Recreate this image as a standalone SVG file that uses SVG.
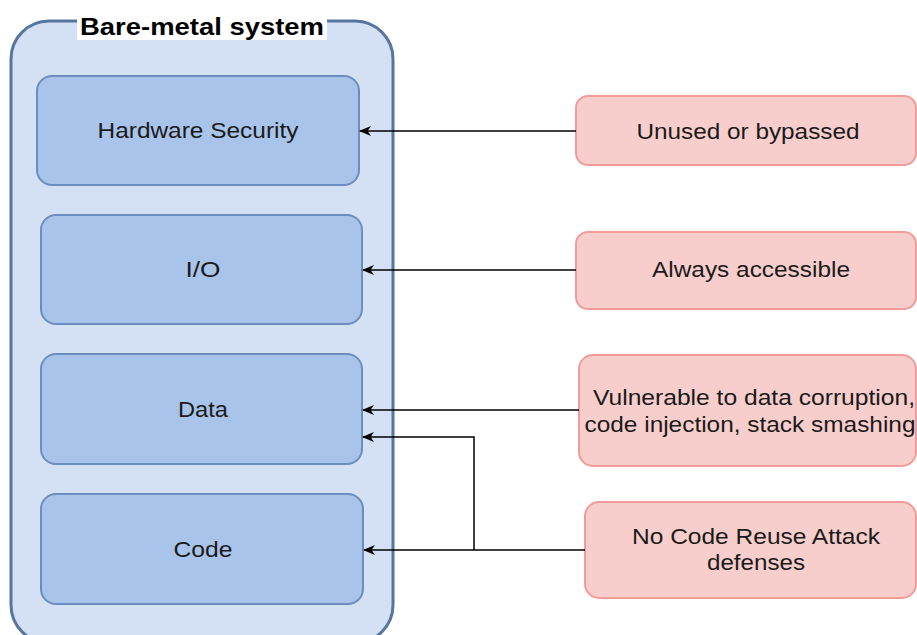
<svg xmlns="http://www.w3.org/2000/svg" width="917" height="635" viewBox="0 0 917 635">
  <style>
    .container { fill: #d4e1f5; stroke: #56759f; stroke-width: 3; }
    .block { fill: #a9c4eb; stroke: #6c8ebf; stroke-width: 2; }
    .issue { fill: #f8cecc; stroke: #f19c99; stroke-width: 2; }
    .label { font-family: "Liberation Sans", Arial, sans-serif; font-size: 22px; fill: #1a1a1a; text-anchor: middle; }
    .title { font-family: "Liberation Sans", Arial, sans-serif; font-size: 23px; font-weight: bold; fill: #000; text-anchor: middle; }
    .wire { fill: none; stroke: #000; stroke-width: 1.5; }
  </style>
  <defs>
    <marker id="arrow" viewBox="0 0 12 10" refX="11" refY="5" markerWidth="12" markerHeight="10" markerUnits="userSpaceOnUse" orient="auto">
      <path d="M0,0 L12,5 L0,10 L3.5,5 z" fill="#000"/>
    </marker>
  </defs>
  <rect width="917" height="635" fill="#fff"/>

  <!-- system container -->
  <g id="bare-metal-system">
    <rect class="container" x="11" y="21" width="382" height="622" rx="38" ry="38"/>
    <rect x="77" y="13" width="250" height="27" fill="#fff"/>
    <text class="title" x="202" y="35" textLength="244" lengthAdjust="spacingAndGlyphs">Bare-metal system</text>
  </g>

  <g id="hardware-security">
    <rect class="block" x="37" y="76" width="322" height="109" rx="15" ry="15"/>
    <text class="label" x="198" y="138" textLength="201" lengthAdjust="spacingAndGlyphs">Hardware Security</text>
  </g>
  <g id="io">
    <rect class="block" x="41" y="215" width="321" height="109" rx="15" ry="15"/>
    <text class="label" x="203" y="277" textLength="35" lengthAdjust="spacingAndGlyphs">I/O</text>
  </g>
  <g id="data">
    <rect class="block" x="41" y="354" width="321" height="110" rx="15" ry="15"/>
    <text class="label" x="203" y="417" textLength="50" lengthAdjust="spacingAndGlyphs">Data</text>
  </g>
  <g id="code">
    <rect class="block" x="41" y="494" width="322" height="110" rx="15" ry="15"/>
    <text class="label" x="203" y="557" textLength="59" lengthAdjust="spacingAndGlyphs">Code</text>
  </g>

  <!-- threat notes -->
  <g id="unused-or-bypassed">
    <rect class="issue" x="576" y="96" width="340" height="69" rx="12" ry="12"/>
    <text class="label" x="748" y="139" textLength="223" lengthAdjust="spacingAndGlyphs">Unused or bypassed</text>
  </g>
  <g id="always-accessible">
    <rect class="issue" x="576" y="232" width="340" height="77" rx="12" ry="12"/>
    <text class="label" x="751" y="277" textLength="198" lengthAdjust="spacingAndGlyphs">Always accessible</text>
  </g>
  <g id="vulnerable">
    <rect class="issue" x="579" y="355" width="337" height="111" rx="14" ry="14"/>
    <text class="label" x="754" y="405" textLength="322" lengthAdjust="spacingAndGlyphs">Vulnerable to data corruption,</text>
    <text class="label" x="750" y="432" textLength="331" lengthAdjust="spacingAndGlyphs">code injection, stack smashing</text>
  </g>
  <g id="no-cra-defenses">
    <rect class="issue" x="585" y="502" width="331" height="96" rx="14" ry="14"/>
    <text class="label" x="756" y="544" textLength="248" lengthAdjust="spacingAndGlyphs">No Code Reuse Attack</text>
    <text class="label" x="756" y="570" textLength="98" lengthAdjust="spacingAndGlyphs">defenses</text>
  </g>

  <!-- connectors -->
  <g id="connectors">
    <path class="wire" d="M576 131 H360" marker-end="url(#arrow)"/>
    <path class="wire" d="M576 270 H363" marker-end="url(#arrow)"/>
    <path class="wire" d="M579 410 H363" marker-end="url(#arrow)"/>
    <path class="wire" d="M585 550 H364" marker-end="url(#arrow)"/>
    <path class="wire" d="M474 550 V437 H363" marker-end="url(#arrow)"/>
  </g>
</svg>
